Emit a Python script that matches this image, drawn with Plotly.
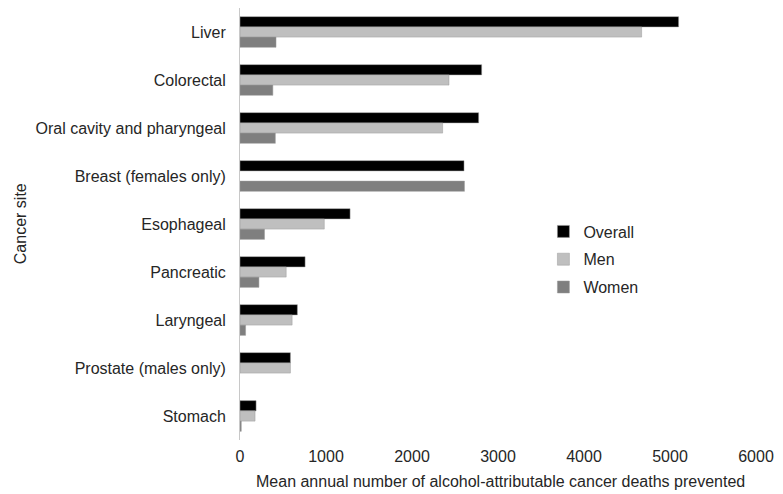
import plotly.graph_objects as go

categories = ["Liver", "Colorectal", "Oral cavity and pharyngeal", "Breast (females only)",
              "Esophageal", "Pancreatic", "Laryngeal", "Prostate (males only)", "Stomach"]
overall = [5100, 2810, 2775, 2605, 1280, 757, 667, 586, 187]
men = [4670, 2430, 2356, None, 980, 537, 606, 586, 175]
women = [419, 382, 411, 2610, 285, 220, 65, None, 15]
x_ticks = [0, 1000, 2000, 3000, 4000, 5000, 6000]

series = [("Overall", overall, "#000000"), ("Men", men, "#bfbfbf"), ("Women", women, "#7f7f7f")]

fig = go.Figure()
for name, vals, col in series:
    fig.add_trace(go.Bar(
        y=categories, x=vals, name=name, orientation="h",
        marker=dict(color=col, line=dict(color="#9a9a9a", width=0.5)),
        legendgroup=name,
    ))

font = "Liberation Sans, Arial, sans-serif"
txt = "#262626"
# page has an 8px body margin, so the figure is sized to fit the window
fig.update_layout(
    width=775, height=486,
    margin=dict(l=232, r=27, t=0, b=54, autoexpand=False),
    paper_bgcolor="white", plot_bgcolor="white",
    barmode="group", bargap=0.36, bargroupgap=0.0,
    font=dict(family=font, size=16, color=txt),
    showlegend=True,
    legend=dict(x=0.588, y=0.522, xanchor="left", yanchor="top",
                traceorder="grouped", tracegroupgap=4,
                font=dict(size=16, color=txt),
                bgcolor="rgba(0,0,0,0)", itemwidth=30),
    annotations=[
        dict(text="Cancer site", xref="paper", yref="paper", x=-0.426, y=0.5,
             textangle=-90, showarrow=False, xanchor="center", yanchor="middle",
             font=dict(size=16, color=txt)),
        dict(text="Mean annual number of alcohol-attributable cancer deaths prevented",
             xref="paper", yref="paper", x=0.504, y=-0.095, showarrow=False,
             xanchor="center", yanchor="middle", font=dict(size=16, color=txt)),
    ],
)
fig.update_xaxes(range=[0, 6000], tickvals=x_ticks, ticktext=[str(v) for v in x_ticks],
                 showgrid=False, zeroline=False, showline=False, automargin=False,
                 ticks="", ticklabelstandoff=5, tickfont=dict(size=16))
fig.update_yaxes(autorange="reversed", showgrid=False, zeroline=False, automargin=False,
                 showline=True, linecolor="#c8c8c8", linewidth=1,
                 ticks="", ticklabelstandoff=10, tickfont=dict(size=16))

fig.write_html("out.html")
